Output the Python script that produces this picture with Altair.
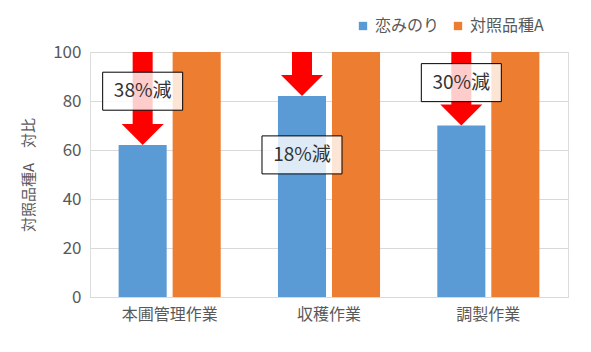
import altair as alt
import pandas as pd

categories = ["本圃管理作業", "収穫作業", "調製作業"]
varieties = ["恋みのり", "対照品種A"]
koi_values = [62, 82, 70]
ctrl_values = [100, 100, 100]
labels = ["38%減", "18%減", "30%減"]
label_y = [84, 58, 87.5]

rows = []
for c, a, b in zip(categories, koi_values, ctrl_values):
    rows.append({"cat": c, "var": varieties[0], "value": a})
    rows.append({"cat": c, "var": varieties[1], "value": b})
bars_df = pd.DataFrame(rows)
ann_df = pd.DataFrame({
    "cat": categories,
    "var": [varieties[0]] * 3,
    "value": koi_values,
    "label": labels,
    "ly": label_y,
    "top": ctrl_values,
})

FONT = "Noto Sans CJK JP"
GRAY = "#595959"

x = alt.X("cat:N", sort=categories, scale=alt.Scale(paddingInner=0, paddingOuter=0),
          axis=alt.Axis(title=None, labelAngle=0, labelFontSize=16, labelColor=GRAY,
                        labelFont=FONT, labelPadding=9, ticks=False, domainColor="#D9D9D9",
                        grid=False))
xo = alt.XOffset("var:N", sort=varieties,
                 scale=alt.Scale(domain=varieties, paddingInner=0.11, paddingOuter=0.53))

bars = alt.Chart(bars_df).mark_bar().encode(
    x=x, xOffset=xo,
    y=alt.Y("value:Q", scale=alt.Scale(domain=[0, 100], nice=False),
            axis=alt.Axis(title="対照品種A　対比", values=[0, 20, 40, 60, 80, 100],
                          labelFontSize=17, labelColor=GRAY, labelFont=FONT,
                          titleFont=FONT, titleFontSize=15, titleColor=GRAY,
                          titleFontWeight="normal", titlePadding=16,
                          ticks=False, domain=False, gridColor="#D9D9D9", labelPadding=9)),
    color=alt.Color("var:N", sort=varieties,
                    scale=alt.Scale(domain=varieties, range=["#5B9BD5", "#ED7D31"]),
                    legend=alt.Legend(title=None, orient="none", direction="horizontal",
                                      legendX=265, legendY=-34, symbolType="square",
                                      symbolSize=70, symbolStrokeWidth=0, labelFontSize=16,
                                      labelFont=FONT, labelColor=GRAY, columnPadding=10,
                                      padding=0, labelOffset=4)),
)

base = alt.Chart(ann_df).encode(x=x, xOffset=xo)

shaft = base.mark_bar(width=20, color="#FF0000", yOffset=-20).encode(
    y=alt.Y("value:Q"), y2=alt.Y2("top:Q"))

head = base.mark_point(shape="M-1,-0.5L1,-0.5L0,0.5Z", size=1764, filled=True,
                       color="#FF0000", opacity=1, yOffset=-10.5).encode(y="value:Q")

box = base.mark_point(shape="M-1,-0.475L1,-0.475L1,0.475L-1,0.475Z", size=6400,
                      filled=True, fill="white", fillOpacity=0.8, stroke="black",
                      strokeWidth=1, strokeOpacity=1, opacity=1).encode(y="ly:Q")

text = base.mark_text(fontSize=19, font=FONT, color="#333333", baseline="middle",
                      align="center").encode(y="ly:Q", text="label:N")

chart = alt.layer(bars, shaft, head, box, text).properties(
    width=478, height=245,
    autosize=alt.AutoSizeParams(type="none"),
    padding={"left": 90, "top": 52, "right": 23, "bottom": 55},
).configure_view(stroke=None).configure(background="white")

chart.save("out.html", embed_options={"renderer": "svg", "actions": False})
